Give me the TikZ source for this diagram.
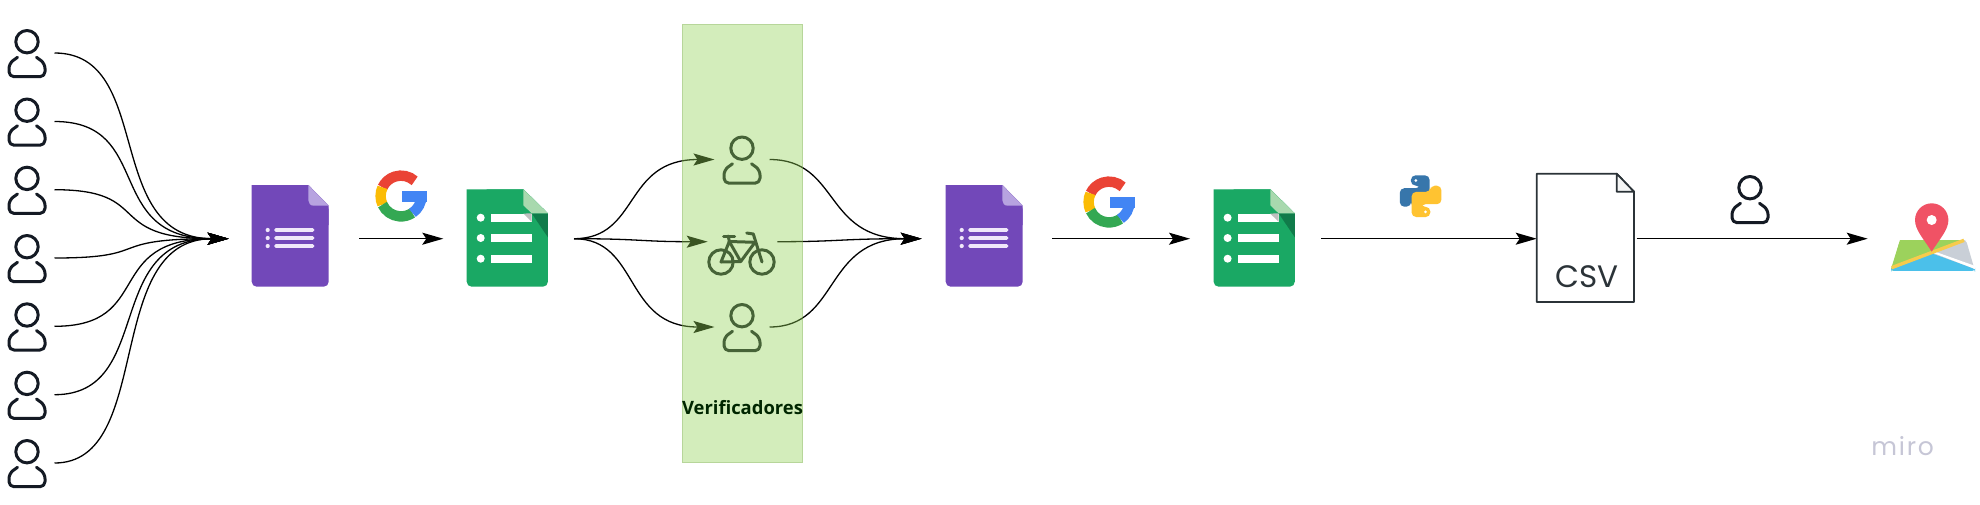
\documentclass[tikz,border=0pt]{standalone}
\usepackage{fontspec}
\setmainfont{Open Sans}
\newfontfamily\csvfont{Poppins}
\newfontfamily\mirofont[LetterSpace=7]{Poppins}
\usetikzlibrary{arrows.meta}
\definecolor{inkdark}{HTML}{141A24}
\definecolor{formpurple}{HTML}{7248B9}
\definecolor{formfold}{HTML}{B7A3E0}
\definecolor{formline}{HTML}{F0E8FA}
\definecolor{sheetgreen}{HTML}{1AA864}
\definecolor{sheetfold}{HTML}{A8D9AE}
\definecolor{sheetdark}{HTML}{107B4A}
\definecolor{gred}{HTML}{EA4335}
\definecolor{gyellow}{HTML}{FBBC05}
\definecolor{ggreen}{HTML}{34A853}
\definecolor{gblue}{HTML}{4285F4}
\definecolor{pyblue}{HTML}{3776AB}
\definecolor{pyyellow}{HTML}{FFC331}
\definecolor{band}{HTML}{91D255}
\definecolor{csvink}{HTML}{2B3338}
\definecolor{pinred}{HTML}{F05265}
\definecolor{mapgreen}{HTML}{9CD25C}
\definecolor{mapgrey}{HTML}{C9CFD7}
\definecolor{mapblue}{HTML}{4BC0EA}
\definecolor{mapyellow}{HTML}{F7CB4D}
\definecolor{mirogrey}{HTML}{C6C6D6}
\tikzset{
  iconbox/.style={inner sep=0pt,outer sep=0pt,draw=none,minimum height=10pt},
  personbox/.style={iconbox,minimum width=38pt,outer xsep=8.5pt},
  flow/.style={draw=black,line width=1.3pt,-{Stealth[length=21pt,width=12pt,inset=4pt]}},
  personline/.style={line width=3pt,line cap=round,line join=round},
  bikeline/.style={line width=3pt,line cap=round,line join=round,draw=inkdark}
}
\newcommand\personicon[1]{%
  \begin{scope}[shift={(#1)}]
    \draw[personline,draw=inkdark] (0,-11.3) circle [radius=11.2pt];
    \draw[personline,draw=inkdark,rounded corners=5pt] (-9.5,4.3) -- (-18,10.5) -- (-18,23.7) -- (18,23.7) -- (18,10.5) -- (9.5,4.3);
  \end{scope}}
\newcommand\formsicon[1]{%
  \begin{scope}[shift={(#1)}]
    \fill[formpurple,rounded corners=5pt] (0,0) -- (0,101.7) -- (77,101.7) -- (77,20.7) [sharp corners] -- (56.6,0) -- cycle;
    \fill[formpurple] (20,0) -- (56.6,0) -- (77,20.7) -- (77,40) -- (20,40) -- cycle;
    \fill[formfold] (56.6,0) -- (77,20.7) -- (62,20.7) .. controls (58.5,20.7) and (56.6,18) .. (56.6,15) -- cycle;
    \foreach \ly in {45,53,61}{
      \fill[formline] (16,\ly) circle [radius=2.1pt];
      \fill[formline,rounded corners=1.5pt] (22.6,\ly-1.9) rectangle (62.6,\ly+1.9);
    }
  \end{scope}}
\newcommand\sheetsicon[1]{%
  \begin{scope}[shift={(#1)}]
    \fill[sheetgreen,rounded corners=5pt] (0,0) -- (0,97.4) -- (81.2,97.4) -- (81.2,24) [sharp corners] -- (56.7,0) -- cycle;
    \fill[sheetgreen] (20,0) -- (56.7,0) -- (81.2,24) -- (81.2,50) -- (20,50) -- cycle;
    \fill[sheetdark] (65,24) -- (81.2,24) -- (81.2,48) -- cycle;
    \foreach \ly in {28.4,48.7,69.4}{
      \fill[white] (14,\ly) circle [radius=4pt];
      \fill[white] (24.5,\ly-4.1) rectangle (65,\ly+4.1);
    }
    \fill[white!75!black] (56.7,24.3) -- (65,24) -- (65,32.5) -- cycle;
    \fill[sheetfold] (56.7,0) -- (81.2,24) -- (65,24) -- (56.7,16) -- cycle;
  \end{scope}}
\newcommand\googleicon[1]{%
  \begin{scope}[shift={(#1)},line width=10.4pt]
    \draw[gred] (48:20.4pt) arc[start angle=48,end angle=155,radius=20.4pt];
    \draw[gyellow] (155:20.4pt) arc[start angle=155,end angle=205,radius=20.4pt];
    \draw[ggreen] (205:20.4pt) arc[start angle=205,end angle=304,radius=20.4pt];
    \draw[gblue] (304:20.4pt) arc[start angle=304,end angle=360,radius=20.4pt];
    \fill[gblue] (0.7,-5) rectangle (25.6,5.6);
  \end{scope}}
\newcommand\snakepath{(-9.7,-10.7) -- (-9.7,-20.8) -- (9,-20.8) -- (9,4.3) -- (-9.7,4.3) -- (-9.7,10.5) -- (-20.8,10.5) -- (-20.8,-8) -- (-0.3,-8) -- (-0.3,-10.7) -- cycle}
\begin{document}
\begin{tikzpicture}[x=1pt,y=-1pt]
\useasboundingbox (0,0) rectangle (1980,504);
\fill[white] (0,0) rectangle (1980,504);

% ---- nodes (invisible boxes that anchor the connectors)
\foreach \n/\y in {p1/53,p2/121.5,p3/189.7,p4/258,p5/326.3,p6/394.7,p7/463}{
  \node[personbox] (\n) at (27,\y) {};
}
\node[iconbox,minimum width=77.3pt] (forms1) at (290.3,238.7) {};
\node[iconbox,minimum width=81pt] (sheets1) at (507.2,238.7) {};
\node[personbox] (vp1) at (742,159.5) {};
\node[iconbox,minimum width=69.6pt] (bike) at (742.5,241.7) {};
\node[personbox] (vp2) at (742,327) {};
\node[iconbox,minimum width=77pt] (forms2) at (984.2,238.7) {};
\node[iconbox,minimum width=81.7pt] (sheets2) at (1254.2,238.7) {};
\node[iconbox,minimum width=97.3pt] (csv) at (1585.35,238.7) {};
\node[iconbox,minimum width=84pt] (maps) at (1933,238.7) {};

% ---- connectors
\foreach \n/\y in {p1/53,p2/121.5,p3/189.7,p4/258,p5/326.3,p6/394.7,p7/463}{
  \draw[flow,shorten >=23pt] (\n.east) .. controls (155,\y) and (102,238.7) .. (forms1.west);
}
\draw[flow,shorten >=23.4pt,shorten <=30.3pt] (forms1.east) -- (sheets1.west);
\draw[flow,shorten <=26.3pt] (sheets1.east) .. controls (640,238.7) and (623,159.5) .. (vp1.west);
\draw[flow,shorten <=26.3pt] (sheets1.east) .. controls (640,238.7) and (640,241.7) .. (bike.west);
\draw[flow,shorten <=26.3pt] (sheets1.east) .. controls (640,238.7) and (623,327) .. (vp2.west);
\draw[flow,shorten >=24pt] (vp1.east) .. controls (840,159.5) and (823,238.7) .. (forms2.west);
\draw[flow,shorten >=24pt] (bike.east) .. controls (840,241.7) and (840,238.7) .. (forms2.west);
\draw[flow,shorten >=24pt] (vp2.east) .. controls (840,327) and (823,238.7) .. (forms2.west);
\draw[flow,shorten >=23.3pt,shorten <=29.4pt] (forms2.east) -- (sheets2.west);
\draw[flow,shorten <=26pt] (sheets2.east) -- (csv.west);
\draw[flow,shorten <=2.7pt,shorten >=23.3pt] (csv.east) -- (maps.west);

% ---- people on the left
\foreach \y in {53,121.5,189.7,258,326.3,394.7,463}{
  \personicon{27,\y}
}

% ---- verifiers inside the band
\personicon{742,159.5}
\personicon{742,327}
\begin{scope}
  \draw[bikeline] (721,262) circle [radius=12.2pt];
  \draw[bikeline] (762,262) circle [radius=12.2pt];
  \draw[bikeline] (721,262) -- (729.3,241.5) -- (740.7,261.5) -- cycle;
  \draw[bikeline] (729.3,241.5) -- (755,242.3) -- (740.7,261.5);
  \draw[bikeline] (729.3,241.5) -- (728.3,236);
  \draw[bikeline] (723.5,236) -- (734.5,236);
  \draw[bikeline] (746.7,233) -- (753.3,234) -- (762,262);
\end{scope}

% ---- green band laid over what passes beneath it
\fill[band,fill opacity=0.4] (682,24) rectangle (802.7,462.7);
\draw[band!70!black,line width=0.6pt,draw opacity=0.25] (682,24) rectangle (802.7,462.7);
\node[iconbox,font=\bfseries\fontsize{18.4}{20}\selectfont,text=black!85!green] (vlabel) at (742.5,408) {Verificadores};

% ---- documents and logos
\formsicon{251.7,185}
\formsicon{945.7,185}
\sheetsicon{466.7,189.3}
\sheetsicon{1213.6,189.3}
\googleicon{401,196}
\googleicon{1109,202}

% python logo
\begin{scope}[shift={(1420.6,196.2)}]
  \fill[pyblue,rounded corners=4.5pt] \snakepath;
  \fill[white] (-4.8,-15.7) circle [radius=1.5pt];
  \begin{scope}[rotate=180]
    \fill[pyyellow,rounded corners=4.5pt] \snakepath;
    \fill[white] (-4.8,-15.7) circle [radius=1.5pt];
  \end{scope}
\end{scope}

% csv file
\draw[csvink,line width=1.7pt,fill=white,line join=round] (1536.7,173.7) -- (1616.7,173.7) -- (1634,191.7) -- (1634,302) -- (1536.7,302) -- cycle;
\fill[csvink!5] (1616.7,173.7) -- (1634,191.7) -- (1616.7,191.7) -- cycle;
\draw[csvink,line width=1.7pt,line join=round] (1616.7,173.7) -- (1634,191.7) -- (1616.7,191.7) -- cycle;
\node[iconbox,font=\csvfont\fontsize{31}{33}\selectfont,text=csvink] (csvlabel) at (1586.7,276.5) {CSV};

% person above the last arrow
\personicon{1750,199}

% map marker
\begin{scope}[shift={(1880,195)},x=0.3333pt,y=-0.3333pt]
  \fill[mapgreen,rounded corners=3pt] (60,135) -- (33,228) -- (155,228) -- (155,135) -- cycle;
  \fill[mapgreen] (60,135) -- (255,135) -- (155,180) -- (33,222) -- cycle;
  \fill[mapgrey,rounded corners=3pt] (155,178) -- (250,135) -- (258,135) -- (285,228) -- cycle;
  \fill[mapblue,rounded corners=3pt] (33,222) -- (155,175) -- (285,222) -- (285,228) -- (33,228) -- cycle;
  \fill[white] (155,172) -- (165,170) -- (283,212) -- (285,222) -- cycle;
  \draw[mapyellow,line width=3.4pt] (35,218) -- (252,136);
  \fill[pinred] (155,170) .. controls (130,130) and (105,105) .. (105,75) arc[start angle=180,end angle=0,radius=16.7pt] .. controls (205,105) and (180,130) .. (155,170) -- cycle;
  \fill[white] (155,75) circle [radius=5pt];
\end{scope}

% watermark
\node[iconbox,font=\mirofont\fontsize{25}{27}\selectfont,text=mirogrey] (miro) at (1902.7,446) {miro};
\end{tikzpicture}
\end{document}
